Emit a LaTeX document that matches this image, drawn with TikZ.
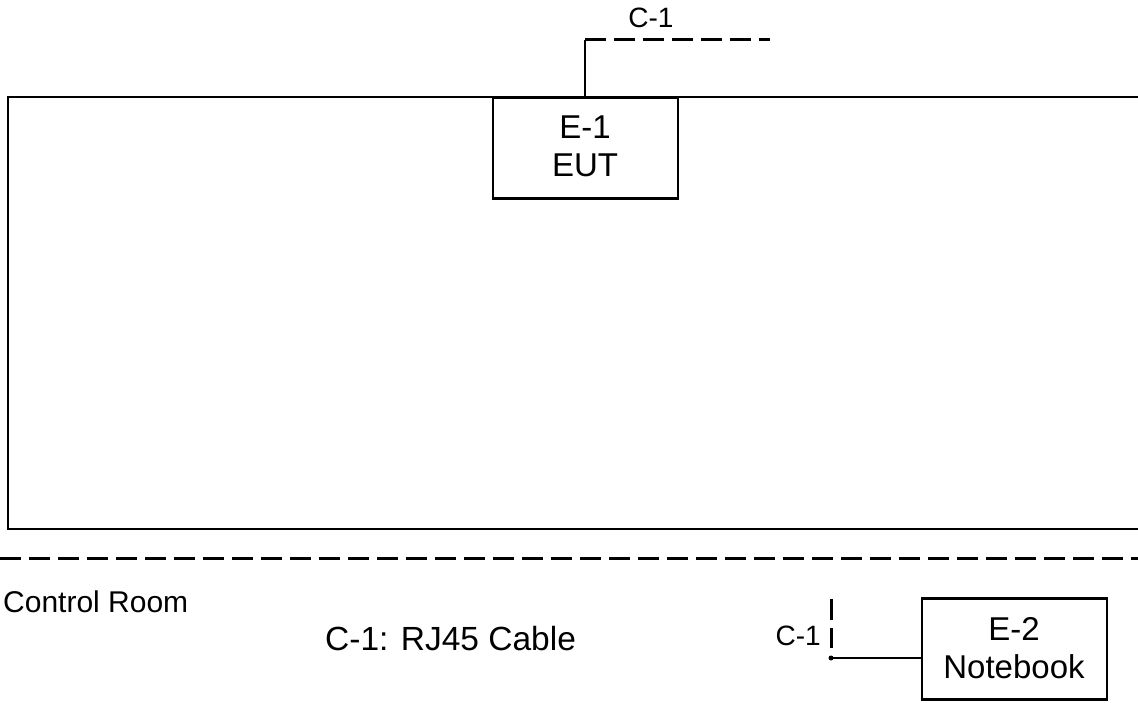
\documentclass[tikz,border=0pt]{standalone}
\usepackage{fontspec}
\setmainfont{Liberation Sans}
\begin{document}
\begin{tikzpicture}[x=1pt,y=-1pt,
  ln/.style={line width=2.5pt},
  dsh/.style={line width=3pt,dash pattern=on 21pt off 8pt},
  box/.style={draw,line width=2.5pt,inner sep=0pt},
  txt/.style={inner sep=0pt,anchor=base,font=\fontsize{33}{38}\selectfont},
  lbl/.style={inner sep=0pt,font=\fontsize{28}{32}\selectfont},
  big/.style={inner sep=0pt,font=\fontsize{33.5}{36}\selectfont}]
\useasboundingbox (0,0) rectangle (1138,703);
% room outline
\draw[ln] (1138,97) -- (8,97) -- (8,529) -- (1138,529);
% separation
\coordinate (sepL) at (0,558);
\coordinate (sepR) at (1138,558);
\draw[dsh] (sepL) -- (sepR);
% EUT
\node[box,minimum width=185pt,minimum height=101pt] (eut) at (585.5,148) {};
\node[txt] (eut1) at (585,139) {E-1};
\node[txt] (eut2) at (585,177) {EUT};
\coordinate (c1a) at (585,40);
\coordinate (c1b) at (770,40);
\draw[ln] (eut.north -| c1a) -- (c1a);
\draw[dsh] (c1a) -- (c1b);
\node[lbl,anchor=base] (c1top) at (651,28) {C-1};
% control room
\node[inner sep=0pt,anchor=base west,font=\fontsize{30}{32}\selectfont] (cr) at (3,612) {Control Room};
\node[big,anchor=base west] (legend) at (325,650) {C-1: RJ45 Cable};
% notebook
\node[box,minimum width=185pt,minimum height=101pt] (nb) at (1014.5,649) {};
\node[txt] (nb1) at (1014,640) {E-2};
\node[txt] (nb2) at (1014,678) {Notebook};
\coordinate (c2a) at (831,658);
\coordinate (c2t) at (831,599);
\coordinate (c2m) at (831,648);
\draw[dsh] (c2t) -- (c2m);
\draw[ln] (c2a) -- (c2a -| nb.west);
\fill (c2a) circle (2.5pt);
\node[lbl,anchor=base east] (c1nb) at (821,645) {C-1};
\end{tikzpicture}
\end{document}
